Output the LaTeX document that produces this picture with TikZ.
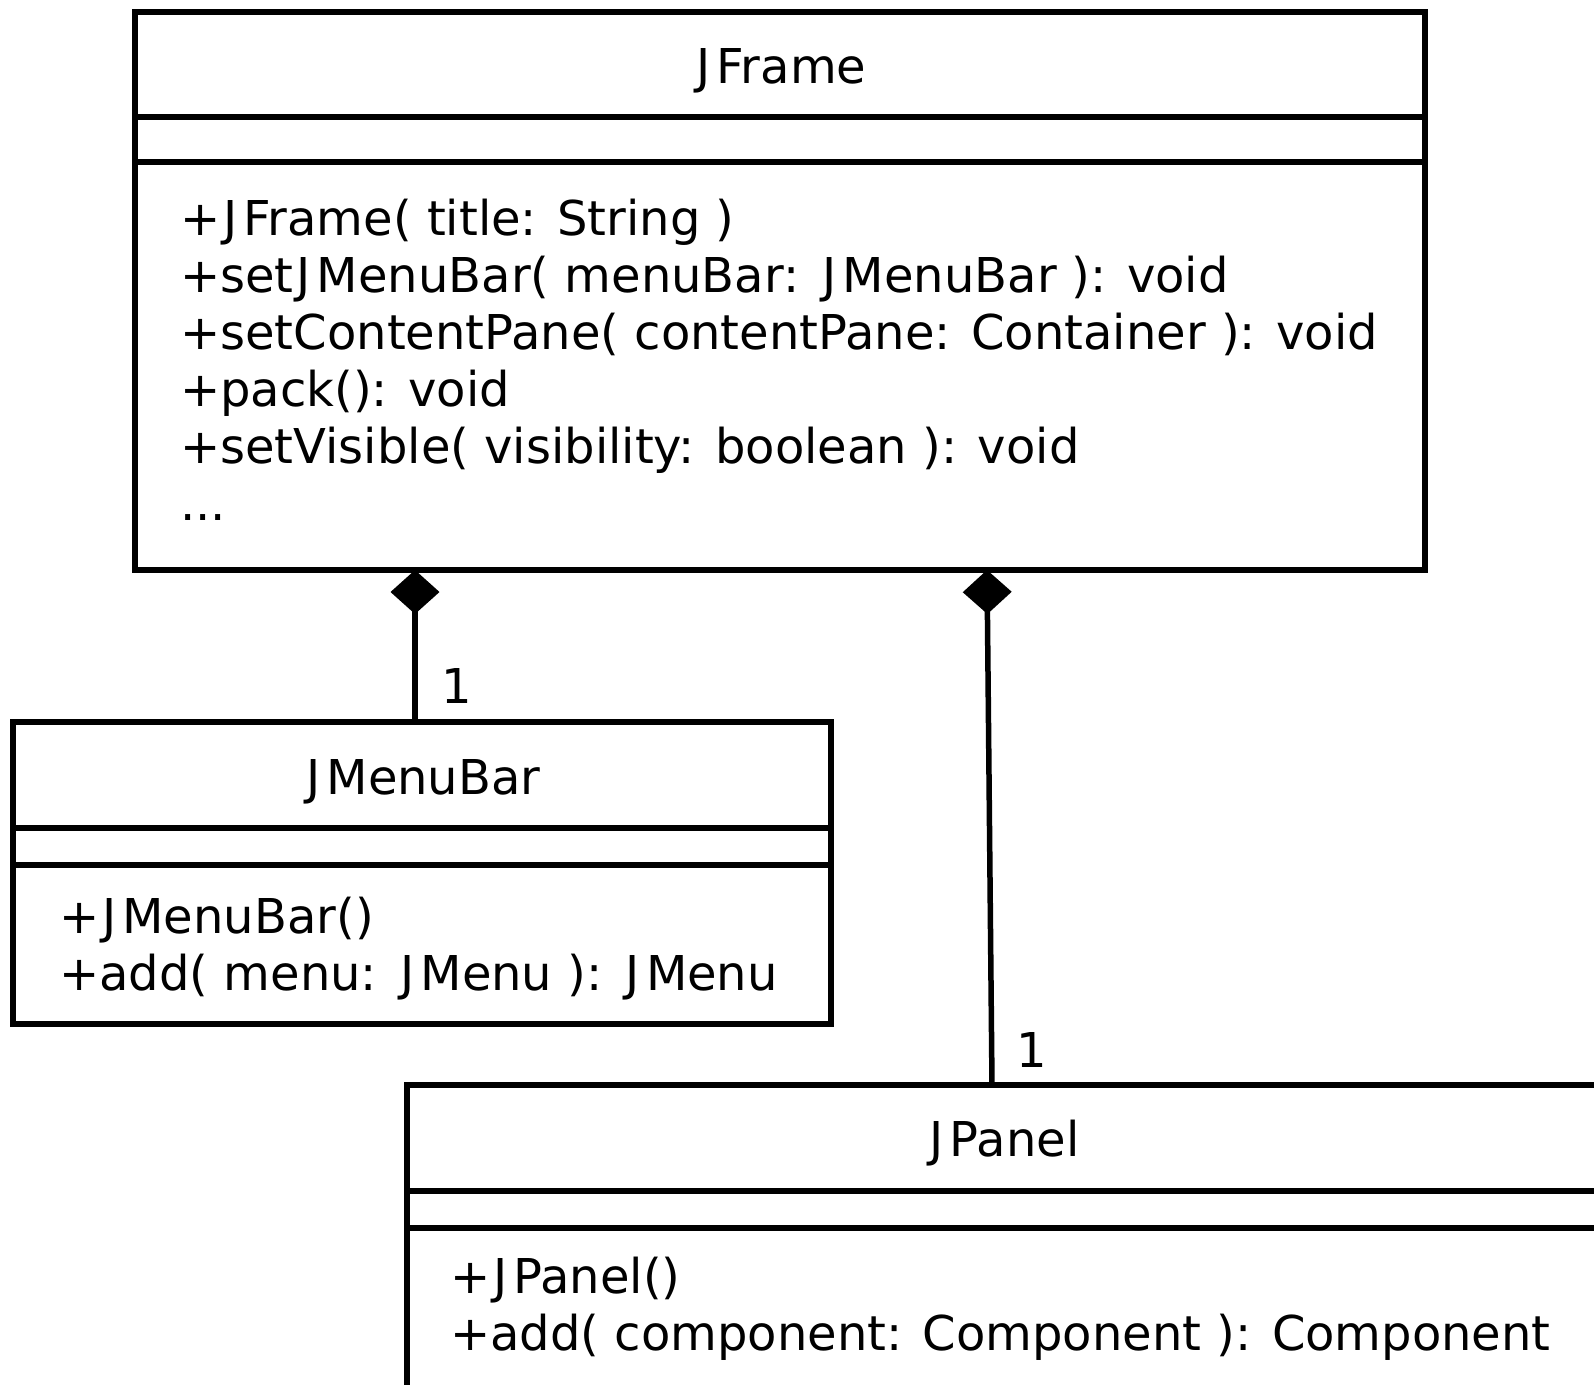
\documentclass[tikz,border=0pt]{standalone}
\usepackage{fontspec}
\setmainfont{DejaVu Sans}
\usetikzlibrary{arrows.meta}
\newcommand\Jk{\kern3pt J\kern6pt}
\begin{document}
\begin{tikzpicture}[x=1pt,y=-1pt,
  box/.style={draw=black, line width=5.5pt, inner sep=0pt, outer sep=0pt},
  sepline/.style={line width=5.5pt},
  txt/.style={font=\fontsize{48}{57}\selectfont, inner sep=0pt, anchor=base west},
  ttl/.style={font=\fontsize{48}{57}\selectfont, inner sep=0pt, anchor=base},
  comp/.style={line width=5.5pt, -{Diamond[length=44pt,width=49pt,line width=0pt]}}]
\useasboundingbox (0,0) rectangle (1594,1384);
\clip (0,0) rectangle (1594,1384);
\fill[white] (0,0) rectangle (1594,1384);

% JFrame
\node[box, minimum width=1290pt, minimum height=558pt] (jframe) at (780,291) {};
\draw[sepline] (135,117) -- (1425,117);
\draw[sepline] (135,162) -- (1425,162);
\node[ttl] (jframeT) at (780,83) {\Jk Frame};
\node[txt] (jf1) at (180,235) {+\Jk Frame( title: String )};
\node[txt] (jf2) at (180,292) {+set\Jk MenuBar( menuBar: \Jk MenuBar ): void};
\node[txt] (jf3) at (180,349) {+setContentPane( contentPane: Container ): void};
\node[txt] (jf4) at (180,406) {+pack(): void};
\node[txt] (jf5) at (180,463) {+setVisible( visibility: boolean ): void};
\node[txt] (jf6) at (180,520) {...};

% JMenuBar
\node[box, minimum width=818pt, minimum height=302pt] (jmb) at (422,873) {};
\draw[sepline] (13,828) -- (831,828);
\draw[sepline] (13,865) -- (831,865);
\node[ttl] (jmbT) at (422,794) {\Jk MenuBar};
\node[txt] (jm1) at (59,933) {+\Jk MenuBar()};
\node[txt] (jm2) at (59,990) {+add( menu: \Jk Menu ): \Jk Menu};

% JPanel
\node[box, minimum width=1192pt, minimum height=335pt] (jp) at (1003,1252.5) {};
\draw[sepline] (407,1191) -- (1599,1191);
\draw[sepline] (407,1228) -- (1599,1228);
\node[ttl] (jpT) at (1003,1156) {\Jk Panel};
\node[txt] (jp1) at (450,1293) {+\Jk Panel()};
\node[txt] (jp2) at (450,1350) {+add( component: Component ): Component};

% connectors
\coordinate (c1top) at (415,570);
\coordinate (c1bot) at (415,722);
\coordinate (c2top) at (987,570);
\coordinate (c2bot) at (992,1085);
\draw[comp] (c1bot) -- (c1top);
\draw[comp] (c2bot) -- (c2top);
\node[ttl] (m1) at (457,703) {1};
\node[ttl] (m2) at (1032,1067) {1};
\end{tikzpicture}
\end{document}
